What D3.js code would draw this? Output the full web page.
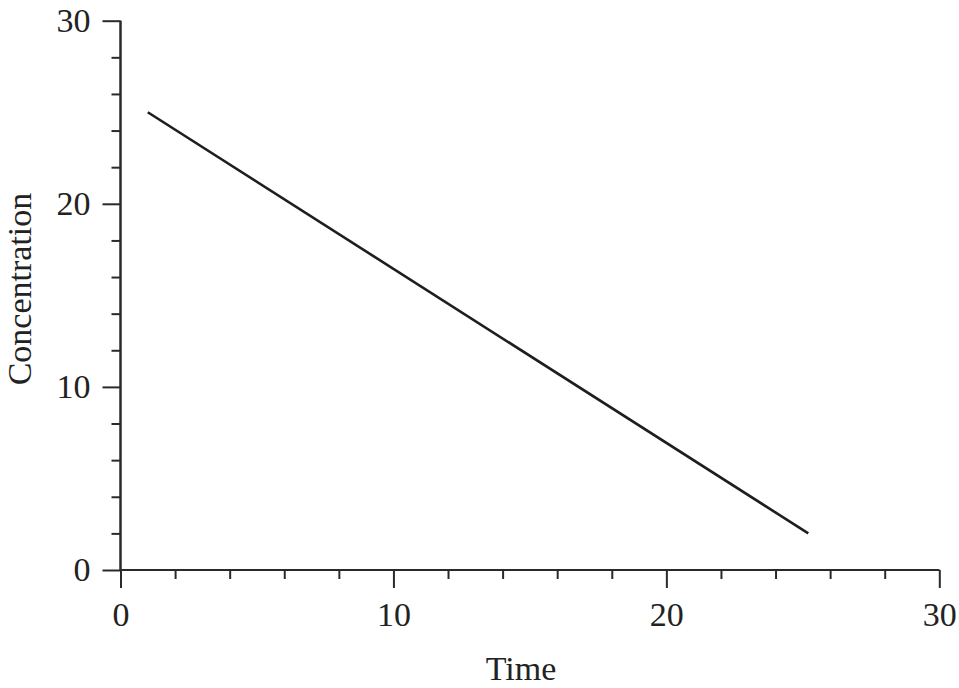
<!DOCTYPE html>
<html><head><meta charset="utf-8">
<script src="https://cdn.jsdelivr.net/npm/d3@7"></script>
<style>body{margin:0;background:#fff}svg{display:block}text{font-family:"Liberation Serif","Times New Roman",serif;fill:#222}</style>
</head><body>
<svg id="c" width="959" height="688"></svg>
<script>
const timeValues = [1, 25.2];
const concentrationValues = [25, 2];
const xTickLabels = [0, 10, 20, 30];
const yTickLabels = [0, 10, 20, 30];
const xMinorTicks = [2,4,6,8,12,14,16,18,22,24,26,28];
const yMinorTicks = [2,4,6,8,12,14,16,18,22,24,26,28];

const svg = d3.select("#c");
const x = d3.scaleLinear().domain([0,30]).range([120.5,939.3]);
const y = d3.scaleLinear().domain([0,30]).range([570,20.7]);
const col = "#2a2a2a";

const gx = svg.append("g").attr("transform","translate(0,570)");
gx.call(d3.axisBottom(x).tickValues(xTickLabels).tickSize(18).tickPadding(14).tickFormat(d3.format("d")));
gx.append("g").call(d3.axisBottom(x).tickValues(xMinorTicks).tickSize(9).tickFormat(""));
const gy = svg.append("g").attr("transform","translate(120.5,0)");
gy.call(d3.axisLeft(y).tickValues(yTickLabels).tickSize(18).tickPadding(12).tickFormat(d3.format("d")));
gy.append("g").call(d3.axisLeft(y).tickValues(yMinorTicks).tickSize(9).tickFormat(""));

svg.selectAll(".domain").attr("stroke",col).attr("stroke-width",2);
svg.selectAll(".tick line").attr("stroke",col).attr("stroke-width",2);
svg.selectAll(".tick text").style("font-family",'"Liberation Serif",serif').style("font-size","34px").attr("fill","#222");
gx.selectAll(".tick text").attr("dy","0.71em");
// hide default domain end caps (outer ticks) for clean look
gx.selectAll(".domain").attr("d",`M${x(0)},0H${x(30)}`);
gy.selectAll(".domain").attr("d",`M0,${y(0)}V${y(30)}`);
gx.select("g").selectAll(".domain").remove();
gy.select("g").selectAll(".domain").remove();

const data = timeValues.map((t,i)=>({t, c: concentrationValues[i]}));
svg.append("path").datum(data)
  .attr("fill","none").attr("stroke","#1e1e1e").attr("stroke-width",2.6)
  .attr("d", d3.line().x(d=>x(d.t)).y(d=>y(d.c)));

svg.append("text").attr("x",521).attr("y",680).attr("text-anchor","middle")
  .style("font-size","34px").text("Time");
svg.append("text").attr("transform","translate(31,289) rotate(-90)").attr("text-anchor","middle")
  .style("font-size","34px").text("Concentration");
</script>
</body></html>
